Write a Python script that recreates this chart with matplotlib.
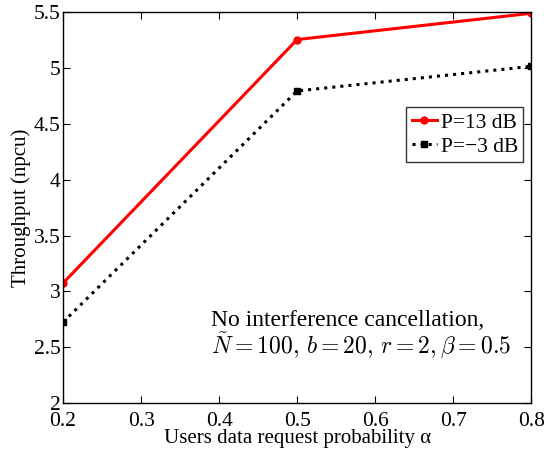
import matplotlib.pyplot as plt

plt.rcParams['font.family'] = ['Liberation Serif', 'DejaVu Serif']
plt.rcParams['mathtext.fontset'] = 'cm'

# data
alpha = [0.2, 0.5, 0.8]
thr_13db = [3.075, 5.255, 5.49]
thr_m3db = [2.725, 4.795, 5.015]

fig = plt.figure(figsize=(5.58, 4.51), dpi=100)
ax = fig.add_axes([0.113, 0.106, 0.839, 0.867])

ax.plot(alpha, thr_13db, '-', color='red', lw=2.2, marker='o', ms=5, label='P=13 dB')
ax.plot(alpha, thr_m3db, ':', color='black', lw=2.2, marker='s', ms=5, label='P=\u22123 dB')

ax.set_xlim(0.2, 0.8)
ax.set_ylim(2, 5.5)
ax.set_xticks([0.2, 0.3, 0.4, 0.5, 0.6, 0.7, 0.8])
ax.set_xticklabels(['0.2', '0.3', '0.4', '0.5', '0.6', '0.7', '0.8'])
ax.set_yticks([2, 2.5, 3, 3.5, 4, 4.5, 5, 5.5])
ax.set_yticklabels(['2', '2.5', '3', '3.5', '4', '4.5', '5', '5.5'])
ax.tick_params(direction='in', top=True, right=True, labelsize=15.5, length=5)
ax.tick_params(axis='x', pad=6)
ax.tick_params(axis='y', pad=2)

ax.set_xlabel('Users data request probability \u03b1', fontsize=15, labelpad=-1)
ax.set_ylabel('Throughput (npcu)', fontsize=15, labelpad=2)

leg = ax.legend(loc='upper right', bbox_to_anchor=(0.983, 0.757), fontsize=15.5,
                frameon=True, fancybox=False, edgecolor='black', handlelength=1.2,
                handletextpad=0.15, borderpad=0.25, labelspacing=0.2, borderaxespad=0)
leg.get_frame().set_linewidth(1.0)

ax.text(0.39, 2.74, 'No interference cancellation,', fontsize=17, va='center')
ax.text(0.39, 2.51, r'$\tilde{N}=100,\, b=20,\, r=2, \beta=0.5$', fontsize=17, va='center')

for s in ax.spines.values():
    s.set_linewidth(1.0)

fig.savefig('out.png', dpi=100)
